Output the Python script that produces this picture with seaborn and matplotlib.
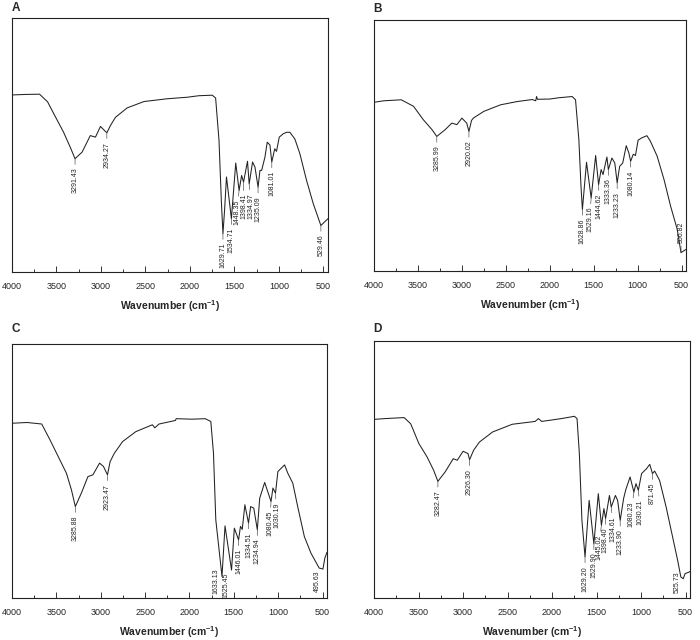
import numpy as np
import matplotlib
matplotlib.use("Agg")
import matplotlib.pyplot as plt
import seaborn as sns
from matplotlib.ticker import MultipleLocator

# FTIR spectra (wavenumber in cm-1, relative transmittance)
wn_a = [4000, 3850, 3690, 3600, 3530, 3420, 3345, 3291.43, 3212, 3120, 3062, 3006,
        2934.27, 2893, 2837, 2706, 2518, 2256, 2031, 1900, 1750, 1712, 1674, 1648,
        1629.71, 1612, 1590, 1534.71, 1486, 1448.35, 1420, 1398.41, 1354, 1334.97,
        1297, 1270, 1235.09, 1214, 1195, 1158, 1132, 1102, 1081.01, 1048, 1028, 997,
        953, 915, 878, 822, 765, 690, 615, 529.46, 450]
t_a = [69.7, 69.9, 70.0, 67.0, 62.3, 55.0, 49.1, 44.6, 47.2, 53.7, 53.1, 57.3,
       54.8, 57.7, 60.9, 64.6, 67.1, 68.2, 68.8, 69.4, 69.6, 68.5, 51.8, 28.2,
       15.1, 24.0, 37.4, 21.0, 42.9, 32.1, 38.0, 35.4, 43.6, 34.7,
       43.3, 41.3, 33.4, 40.0, 40.0, 45.2, 51.1, 50.0, 43.3, 48.5, 47.5, 53.1,
       54.4, 55.0, 55.0, 52.4, 46.5, 36.0, 26.9, 18.3, 21.0]
peaks_a = ["3291.43", "2934.27", "1629.71", "1534.71", "1448.35", "1398.41",
           "1334.97", "1235.09", "1081.01", "529.46"]

wn_b = [4000, 3890, 3690, 3550, 3440, 3340, 3285.99, 3190, 3115, 3057, 3000, 2945,
        2920.02, 2890, 2870, 2750, 2560, 2370, 2200, 2160, 2150, 2140, 2000, 1900,
        1745, 1707, 1669, 1645, 1628.86, 1582, 1529.16, 1478, 1444.62, 1416, 1394,
        1350, 1333.36, 1293, 1260, 1233.23, 1205, 1170, 1130, 1100, 1080.14, 1050,
        1025, 995, 955, 895, 855, 778, 700, 625, 550, 506.82, 450]
t_b = [67.2, 67.8, 68.2, 65.6, 60.3, 56.3, 53.6, 56.3, 58.9, 58.3, 60.9, 58.9,
       55.6, 60.0, 60.9, 63.6, 66.2, 67.5, 68.3, 67.8, 69.5, 68.4, 68.5, 69.0,
       69.5, 68.2, 52.3, 33.8, 24.5, 43.3, 29.1, 46.0, 34.4, 40.4, 38.4,
       45.4, 40.4, 45.0, 43.0, 35.1, 41.7, 43.0, 49.9, 47.0, 43.7, 46.5,
       46.0, 52.1, 53.0, 53.9, 51.7, 45.7, 36.4, 25.8, 16.6, 7.3, 8.6]
peaks_b = ["3285.99", "2920.02", "1628.86", "1529.16", "1444.62", "1333.36",
           "1233.23", "1080.14", "506.82"]

wn_c = [4000, 3830, 3665, 3572, 3479, 3386, 3330, 3285.88, 3218, 3144, 3088, 3013,
        2969, 2923.47, 2894, 2846, 2753, 2604, 2418, 2390, 2343, 2157, 2150, 1971,
        1822, 1759, 1729, 1703, 1633.13, 1599, 1525.45, 1494, 1446.01, 1425, 1405,
        1375, 1334.51, 1310, 1275, 1234.94, 1208, 1152, 1080.45, 1059, 1030.19,
        1003, 928, 891, 835, 780, 705, 631, 538, 495.63, 474, 450]
t_c = [68.8, 69.1, 68.5, 62.3, 55.7, 49.1, 42.6, 36.0, 41.3, 47.8, 48.5, 53.1,
       51.8, 48.5, 53.7, 57.0, 61.6, 65.5, 68.2, 67.0, 68.5, 69.9, 70.6, 70.4,
       70.6, 69.5, 57.0, 30.8, 8.5, 28.4, 11.0, 27.5, 22.9, 28.2, 27.0,
       36.7, 29.5, 36.0, 35.4, 26.9, 39.3, 45.5, 38.0, 43.3, 41.3,
       49.8, 52.4, 49.1, 45.2, 36.0, 24.2, 17.7, 11.8, 11.4, 15.7, 18.0]
peaks_c = ["3285.88", "2923.47", "1633.13", "1525.45", "1446.01", "1334.51",
           "1234.94", "1080.45", "1030.19", "495.63"]

wn_d = [4000, 3882, 3662, 3588, 3496, 3404, 3330, 3282.47, 3202, 3110, 3065, 2999,
        2944, 2926.30, 2881, 2815, 2668, 2447, 2190, 2153, 2116, 1896, 1748, 1719,
        1693, 1664, 1629.20, 1583, 1529.90, 1480, 1445.02, 1417, 1398.40, 1355,
        1334.61, 1288, 1263, 1233.90, 1196, 1171, 1123, 1080.23, 1057, 1030.21,
        994, 939, 902, 871.45, 847, 792, 718, 645, 589, 553, 525.73, 505, 460, 450]
t_d = [69.5, 69.8, 70.2, 67.8, 60.1, 54.9, 49.7, 45.4, 49.0, 54.2, 53.6, 57.1,
       56.2, 53.8, 57.5, 60.7, 64.6, 67.6, 68.7, 69.8, 68.7, 69.8, 70.7, 69.8,
       56.2, 30.2, 16.0, 38.0, 21.1, 40.6, 28.3, 34.8, 30.9, 39.9,
       35.4, 39.9, 38.0, 30.2, 38.7, 42.2, 47.1, 41.2, 44.5, 41.9,
       48.4, 50.3, 52.0, 48.4, 49.4, 45.8, 35.4, 23.7, 14.7, 8.2, 7.5, 9.5, 10.1, 10.3]
peaks_d = ["3282.47", "2926.30", "1629.20", "1529.90", "1445.02", "1398.40",
           "1334.61", "1233.90", "1080.23", "1030.21", "871.45", "525.73"]

panels = [("A", wn_a, t_a, peaks_a), ("B", wn_b, t_b, peaks_b),
          ("C", wn_c, t_c, peaks_c), ("D", wn_d, t_d, peaks_d)]

# label placement tweaks for crowded spots: (dx, dy) in points, vertical align, draw line
special = {
    ("A", "1448.35"): (-1.6, -6.5, "top", True),
    ("A", "1398.41"): (0.0, -8.5, "top", True),
    ("A", "1334.97"): (1.3, -6.5, "top", True),
    ("B", "1529.16"): (-1.2, -6.5, "top", True),
    ("B", "1444.62"): (0.4, -6.5, "top", True),
    ("B", "506.82"): (0, 7, "bottom", True),
    ("C", "1633.13"): (-4, 6, "top", False),
    ("C", "1525.45"): (-4, -2, "top", False),
    ("C", "1080.45"): (-1.0, -6.5, "top", True),
    ("C", "1030.19"): (0.8, -6.5, "top", True),
    ("C", "495.63"): (-4, -1, "top", False),
    ("D", "1445.02"): (-1.9, -6.5, "top", True),
    ("D", "1398.40"): (-0.1, -6.5, "top", True),
    ("D", "1334.61"): (1.5, -6.5, "top", True),
    ("D", "1080.23"): (-2.0, -6.5, "top", True),
    ("D", "1030.21"): (1.5, -6.5, "top", True),
    ("D", "525.73"): (-4, 5, "top", False),
}

rects = {"A": [0.0171, 0.575, 0.4514, 0.3969],
         "B": [0.5343, 0.5766, 0.4457, 0.3922],
         "C": [0.0171, 0.0656, 0.45, 0.3969],
         "D": [0.5343, 0.0656, 0.4514, 0.4016]}
letter_y = {"A": 1 - 2 / 640, "B": 1 - 3 / 640, "C": 1 - 323 / 640, "D": 1 - 323 / 640}

sns.set_theme(style="ticks")
plt.rcParams["font.family"] = ["Liberation Sans", "DejaVu Sans"]
plt.rcParams["mathtext.fontset"] = "custom"
plt.rcParams["mathtext.rm"] = "Liberation Sans"
plt.rcParams["mathtext.bf"] = "Liberation Sans:bold"

fig = plt.figure(figsize=(7, 6.4), dpi=100)

for name, wn, t, peaks in panels:
    ax = fig.add_axes(rects[name])
    sns.lineplot(x=wn, y=t, ax=ax, color="#222222", lw=0.75, estimator=None)
    ax.set_xlim(4000, 450)
    ax.set_ylim(0, 100)
    ax.set_yticks([])
    ax.xaxis.set_major_locator(MultipleLocator(500))
    ax.xaxis.set_minor_locator(MultipleLocator(250))
    ax.tick_params(axis="x", which="major", direction="in", length=4, width=0.7,
                   labelsize=6.5, pad=7, color="#333333")
    ax.tick_params(axis="x", which="minor", direction="in", length=2, width=0.7,
                   color="#333333")
    ax.set_ylabel("")
    ax.set_xlabel(r"Wavenumber (cm$^{\mathbf{-1}}$)", fontsize=7.5,
                  fontweight="bold", labelpad=5.5)
    for sp in ax.spines.values():
        sp.set_linewidth(0.8)
        sp.set_color("#222222")

    xs = np.array(wn[::-1], dtype=float)
    ys = np.array(t[::-1], dtype=float)
    for lab in peaks:
        x = float(lab)
        y = np.interp(x, xs, ys)
        dx, dy, va, line = special.get((name, lab), (0, -6.5, "top", True))
        ap = dict(arrowstyle="-", lw=0.5, color="#555555", shrinkA=0, shrinkB=0) if line else None
        ax.annotate(lab, xy=(x, y), xytext=(dx, dy), textcoords="offset points",
                    rotation=90, ha="center", va=va, fontsize=5, color="#222222",
                    arrowprops=ap)

    fig.text(rects[name][0] - 0.001, letter_y[name], name, fontsize=8.5,
             fontweight="bold", ha="left", va="top")

fig.savefig("out.png", dpi=100)
